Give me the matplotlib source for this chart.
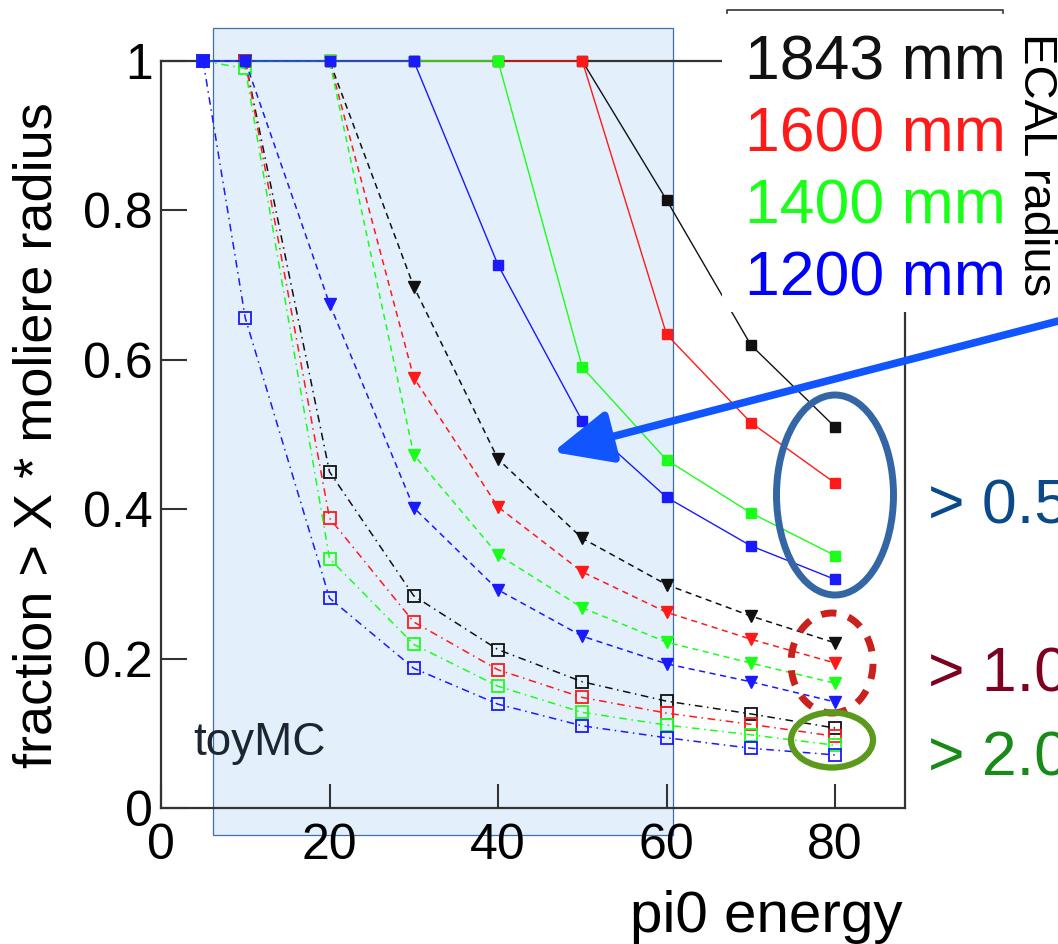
import matplotlib
matplotlib.use("Agg")
import matplotlib.pyplot as plt
from matplotlib.patches import Rectangle, Ellipse, FancyArrowPatch
from matplotlib.lines import Line2D

plt.rcParams['font.family'] = ['Liberation Sans', 'DejaVu Sans']

W, H = 1058, 944

energy = [5, 10, 20, 30, 40, 50, 60, 70, 80]
radii = ["1843 mm", "1600 mm", "1400 mm", "1200 mm"]
colors = ["#111111", "#ff1a1a", "#1aff1a", "#1a1aff"]

# fraction > 0.5 moliere radius
frac05 = [
    [1, 1, 1, 1, 1, 1, 0.814, 0.620, 0.510],
    [1, 1, 1, 1, 1, 1, 0.634, 0.516, 0.435],
    [1, 1, 1, 1, 1, 0.590, 0.466, 0.395, 0.338],
    [1, 1, 1, 1, 0.727, 0.518, 0.416, 0.351, 0.306],
]
# fraction > 1.0 moliere radius
frac10 = [
    [1, 1, 1, 0.698, 0.467, 0.361, 0.299, 0.257, 0.221],
    [1, 1, 1, 0.576, 0.403, 0.316, 0.262, 0.226, 0.194],
    [1, 1, 1, 0.473, 0.339, 0.268, 0.222, 0.194, 0.167],
    [1, 1, 0.675, 0.402, 0.292, 0.230, 0.193, 0.169, 0.142],
]
# fraction > 2.0 moliere radius
frac20 = [
    [1, 1, 0.450, 0.284, 0.212, 0.169, 0.143, 0.126, 0.107],
    [1, 1, 0.388, 0.249, 0.185, 0.148, 0.127, 0.112, 0.096],
    [1, 0.99, 0.334, 0.219, 0.163, 0.128, 0.111, 0.098, 0.084],
    [1, 0.656, 0.281, 0.187, 0.139, 0.110, 0.094, 0.080, 0.071],
]

thresholds = ["> 0.5", "> 1.0", "> 2.0"]
thr_colors = ["#0a4a8a", "#7e0021", "#178a17"]


def fx(px):
    return px / W


def fy(py):
    return 1 - py / H


fig = plt.figure(figsize=(W / 100, H / 100), dpi=100)
ax = fig.add_axes([fx(161), fy(808), (905 - 161) / W, (808 - 61) / H])
ax.patch.set_alpha(0)

# toyMC shaded region
fig.add_artist(Rectangle((fx(213), fy(835)), (673 - 213) / W, (835 - 28) / H,
                         transform=fig.transFigure, facecolor="#e3f0fc",
                         edgecolor="#3f6fa8", lw=0.9, zorder=-1))

for i in range(4):
    ax.plot(energy, frac05[i], color=colors[i], lw=1.0, marker="s", ms=6.5,
            clip_on=False, zorder=3)
    ax.plot(energy, frac10[i], color=colors[i], lw=1.1, ls=(0, (4, 3)),
            marker="v", ms=8, clip_on=False, zorder=3)
    ax.plot(energy, frac20[i], color=colors[i], lw=1.1, ls=(0, (5, 3, 1, 3)),
            marker="s", ms=9, mfc="none", mew=1.3, clip_on=False, zorder=3)

ax.set_xlim(0, 88.3)
ax.set_ylim(0, 1)
ax.set_xticks([0, 20, 40, 60, 80])
ax.set_yticks([0, 0.2, 0.4, 0.6, 0.8, 1.0])
ax.set_yticklabels(["0", "0.2", "0.4", "0.6", "0.8", "1"])
ax.tick_params(axis="both", direction="in", width=1.5, color="#333333",
               labelsize=36, top=False, right=False)
ax.tick_params(axis="x", length=17, pad=11)
ax.tick_params(axis="y", length=19, pad=6)
for sp in ax.spines.values():
    sp.set_linewidth(1.6)
    sp.set_color("#333333")

fig.text(fx(38), fy(435), "fraction > X * moliere radius", rotation=90,
         ha="center", va="center", fontsize=39)
fig.text(fx(903), fy(932), "pi0 energy", ha="right", va="baseline", fontsize=42)
fig.text(fx(193), fy(755), "toyMC", ha="left", va="baseline", fontsize=33,
         color="#1c2530")

# legend box covering top right corner of the frame
fig.add_artist(Rectangle((fx(722), fy(312)), (1010 - 722) / W, 312 / H,
                         transform=fig.transFigure, facecolor="white",
                         edgecolor="none", zorder=5))
fig.add_artist(Line2D([fx(727), fx(727), fx(1003), fx(1003)],
                      [fy(13), fy(10), fy(10), fy(13)],
                      transform=fig.transFigure, color="#333333", lw=1.2,
                      zorder=6))
baselines = [80, 152, 224, 295]
for lab, c, b in zip(radii, colors, baselines):
    fig.text(fx(745), fy(b), lab, color=c if c != "#1a1aff" else "#0000ff",
             ha="left", va="baseline", fontsize=45, zorder=7)
fig.text(fx(1036), fy(33), "ECAL radius", rotation=-90, ha="center", va="top",
         fontsize=34, zorder=7)

# circles around the 80 GeV points
fig.add_artist(Ellipse((fx(835), fy(495)), 117 / W, 200 / H,
                       transform=fig.transFigure, fill=False,
                       edgecolor="#3465a4", lw=5, zorder=8))
fig.add_artist(Ellipse((fx(832), fy(663)), 82 / W, 100 / H,
                       transform=fig.transFigure, fill=False,
                       edgecolor="#c9211e", lw=5, ls=(0, (2.2, 1.8)),
                       zorder=8))
fig.add_artist(Ellipse((fx(832), fy(740)), 82 / W, 55 / H,
                       transform=fig.transFigure, fill=False,
                       edgecolor="#5c9a1e", lw=4.5, zorder=8))

thr_baselines = [523, 692, 775]
for lab, c, b in zip(thresholds, thr_colors, thr_baselines):
    fig.text(fx(928), fy(b), lab, color=c, ha="left", va="baseline",
             fontsize=45, zorder=7)

arrow = FancyArrowPatch((fx(1070), fy(318)), (fx(553), fy(452)),
                        transform=fig.transFigure,
                        arrowstyle="-|>,head_length=2.0,head_width=0.9",
                        mutation_scale=18, lw=5.5, color="#1155ff",
                        shrinkA=0, shrinkB=0, zorder=9)
fig.add_artist(arrow)

fig.savefig("out.png", dpi=100)
